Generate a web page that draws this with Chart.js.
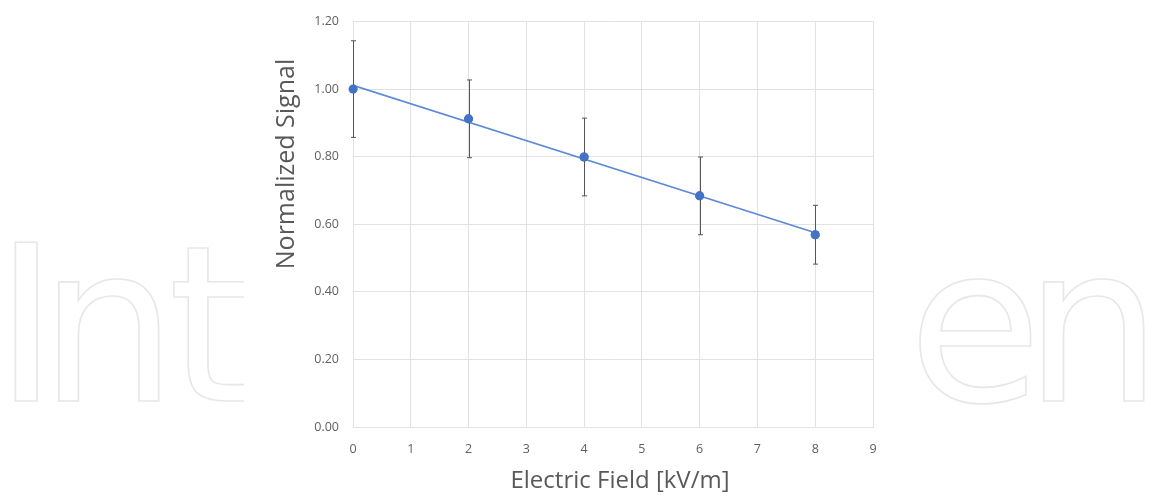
<!DOCTYPE html>
<html>
<head>
<meta charset="utf-8">
<script src="https://cdn.jsdelivr.net/npm/chart.js@4.4.1/dist/chart.umd.min.js"></script>
<style>
    html, body { margin: 0; padding: 0; background: #fff; }
    #wrap { width: 1149px; height: 497px; position: relative; }
</style>
</head>
<body>
<div id="wrap"><canvas id="chart"></canvas></div>
<script>
// values
let fieldKV = [0, 2, 4, 6, 8];
let signal = [1.00, 0.912, 0.799, 0.684, 0.569];
let signalErr = [0.143, 0.115, 0.115, 0.115, 0.087];
// linear trendline end points
let trendX = [0, 8];
let trendY = [1.011, 0.575];
let xTicks = [0, 1, 2, 3, 4, 5, 6, 7, 8, 9];
let yTicks = [0, 0.2, 0.4, 0.6, 0.8, 1.0, 1.2];

let xTitle = 'Electric Field [kV/m]';
let yTitle = 'Normalized Signal';

let textFont = "'Open Sans', 'DejaVu Sans', sans-serif";

// faint publisher watermark behind the figure
const watermark = {
    id: 'watermark',
    beforeDraw(chart) {
        let ctx = chart.ctx;
        ctx.save();
        ctx.fillStyle = '#fff';
        ctx.fillRect(0, 0, chart.width, chart.height);
        ctx.beginPath();
        ctx.rect(0, 0, 244, chart.height);
        ctx.rect(906, 0, chart.width - 906, chart.height);
        ctx.clip();
        ctx.font = "218px 'DejaVu Sans'";
        ctx.textBaseline = 'alphabetic';
        ctx.strokeStyle = '#e7e7e7';
        ctx.lineWidth = 1.6;
        // letters placed one by one to follow the original spacing
        ctx.strokeText('I', -6, 401);
        ctx.strokeText('n', 39, 401);
        ctx.strokeText('t', 168, 401);
        ctx.strokeText('e', 908, 401);
        ctx.strokeText('n', 1024, 401);
        ctx.restore();
    }
};

const errorBars = {
    id: 'errorBars',
    afterDatasetsDraw(chart) {
        let ctx = chart.ctx;
        let xs = chart.scales.x, ys = chart.scales.y;
        ctx.save();
        ctx.strokeStyle = '#555';
        ctx.lineWidth = 1;
        for (let i = 0; i < fieldKV.length; i++) {
            let px = Math.round(xs.getPixelForValue(fieldKV[i])) + 0.5;
            let top = ys.getPixelForValue(signal[i] + signalErr[i]);
            let bot = ys.getPixelForValue(signal[i] - signalErr[i]);
            ctx.beginPath();
            ctx.moveTo(px, top);
            ctx.lineTo(px, bot);
            ctx.moveTo(px - 2.5, top);
            ctx.lineTo(px + 2.5, top);
            ctx.moveTo(px - 2.5, bot);
            ctx.lineTo(px + 2.5, bot);
            ctx.stroke();
        }
        // redraw the markers over the bars
        chart.getDatasetMeta(1).data.forEach((pt) => pt.draw(ctx));
        ctx.restore();
    }
};

const axisTitles = {
    id: 'axisTitles',
    afterDraw(chart) {
        let ctx = chart.ctx;
        ctx.save();
        ctx.fillStyle = '#595959';
        ctx.font = '24px ' + textFont;
        ctx.textAlign = 'center';
        ctx.textBaseline = 'middle';
        ctx.fillText(xTitle, 620, 481);
        ctx.font = '25px ' + textFont;
        ctx.translate(287, 164);
        ctx.rotate(-Math.PI / 2);
        ctx.fillText(yTitle, 0, 0);
        ctx.restore();
    }
};

let chartArea = document.getElementById('chart').getContext('2d');

let myChart = new Chart(chartArea, {
    type: 'scatter',
    data: {
        datasets: [{
            label: 'Linear trend',
            type: 'line',
            data: trendX.map((v, i) => ({ x: v, y: trendY[i] })),
            borderColor: '#5b8ad6',
            borderWidth: 1.6,
            pointRadius: 0,
            fill: false
        }, {
            label: 'Normalized Signal',
            data: fieldKV.map((v, i) => ({ x: v, y: signal[i] })),
            backgroundColor: '#4472c4',
            borderColor: '#4472c4',
            pointRadius: 4.5,
            pointBorderWidth: 0
        }]
    },
    options: {
        responsive: true,
        maintainAspectRatio: false,
        animation: false,
        layout: {
            padding: { left: 250, right: 276, top: 20, bottom: 0 }
        },
        plugins: {
            legend: { display: false },
            tooltip: { enabled: false }
        },
        scales: {
            x: {
                type: 'linear',
                min: 0,
                max: 9,
                afterBuildTicks: (axis) => { axis.ticks = xTicks.map((v) => ({ value: v })); },
                afterFit: (axis) => { axis.height = 70; },
                grid: { color: '#e2e2e2', drawTicks: false },
                border: { color: '#e2e2e2' },
                ticks: {
                    padding: 15,
                    color: '#5f5f5f',
                    font: { family: textFont, size: 12.5 }
                }
            },
            y: {
                min: 0,
                max: 1.2,
                afterBuildTicks: (axis) => { axis.ticks = yTicks.map((v) => ({ value: v })); },
                afterFit: (axis) => { axis.width = 103; },
                grid: { color: '#e2e2e2', drawTicks: false },
                border: { color: '#e2e2e2' },
                ticks: {
                    padding: 14,
                    color: '#5f5f5f',
                    font: { family: textFont, size: 12.5 },
                    callback: (v) => Number(v).toFixed(2)
                }
            }
        }
    },
    plugins: [watermark, errorBars, axisTitles]
});
</script>
</body>
</html>
